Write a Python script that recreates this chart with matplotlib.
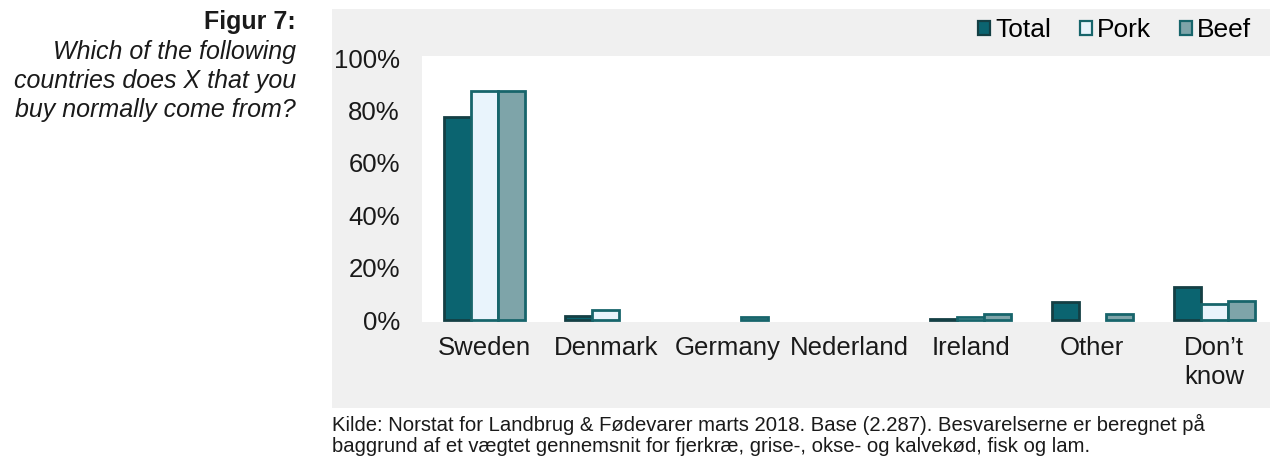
import matplotlib
matplotlib.use("Agg")
import matplotlib.pyplot as plt
from matplotlib.patches import Patch
import numpy as np

plt.rcParams['font.family'] = ['Liberation Sans', 'DejaVu Sans']

categories = ["Sweden", "Denmark", "Germany", "Nederland", "Ireland", "Other", "Don\u2019t\nknow"]
series_names = ["Total", "Pork", "Beef"]
total = [77.5, 1.5, 0.0, 0.0, 0.5, 6.8, 12.5]
pork = [87.3, 3.8, 0.0, 0.0, 1.2, 0.0, 6.0]
beef = [87.3, 0.0, 1.2, 0.0, 2.2, 2.2, 7.3]
y_ticks = [0, 20, 40, 60, 80, 100]

title_bold = "Figur 7:"
question_lines = ["Which of the following", "countries does X that you", "buy normally come from?"]
source_lines = ["Kilde: Norstat for Landbrug & F\u00f8devarer marts 2018. Base (2.287). Besvarelserne er beregnet p\u00e5",
                "baggrund af et v\u00e6gtet gennemsnit for fjerkr\u00e6, grise-, okse- og kalvek\u00f8d, fisk og lam."]

W, H = 1270, 457
fig = plt.figure(figsize=(W / 100, H / 100), dpi=100)
fig.patch.set_facecolor("white")

# grey panel behind the chart
bg = fig.add_axes([332 / W, 1 - 408 / H, (W - 332) / W, (408 - 9) / H], zorder=0)
bg.set_facecolor("#f0f0f0")
bg.set_xticks([])
bg.set_yticks([])
for s in bg.spines.values():
    s.set_visible(False)

ax = fig.add_axes([422 / W, 1 - 322 / H, (W - 422) / W, (322 - 56) / H], zorder=1)
ax.set_facecolor("white")

x = np.arange(len(categories))
bw = 0.222
styles = [
    dict(facecolor="#0b6470", edgecolor="#143f44"),
    dict(facecolor="#e9f4fc", edgecolor="#17656b"),
    dict(facecolor="#7ea4a9", edgecolor="#17656b"),
]
for k, vals in enumerate([total, pork, beef]):
    vals = np.array(vals)
    lw = np.where(vals > 0, 2.0, 0.0)
    ax.bar(x + (k - 1) * bw, vals, width=bw, linewidth=lw, zorder=3, **styles[k])

ax.set_xlim(-0.51, 6.46)
ax.set_ylim(-0.7, 100.8)
ax.set_yticks(y_ticks)
ax.set_yticklabels([f"{t}%" for t in y_ticks])
ax.set_xticks(x)
ax.set_xticklabels(categories, linespacing=1.25)
ax.tick_params(axis="both", length=0, labelsize=18.5, colors="#1a1a1a")
ax.tick_params(axis="y", pad=16)
ax.tick_params(axis="x", pad=10)
for s in ax.spines.values():
    s.set_visible(False)

handles = [Patch(linewidth=1.6, **st) for st in styles]
fig.legend(handles, series_names, loc="center right", bbox_to_anchor=(1262 / W, 1 - 30 / H),
           ncol=3, frameon=False, fontsize=19, handlelength=0.45, handleheight=0.45,
           handletextpad=0.2, columnspacing=1.1, borderaxespad=0)

fig.text(296 / W, 1 - 22 / H, title_bold, ha="right", va="center", fontsize=18,
         fontweight="bold", color="#1a1a1a")
for i, line in enumerate(question_lines):
    fig.text(296 / W, 1 - (52 + 29 * i) / H, line, ha="right", va="center", fontsize=18,
             style="italic", color="#1a1a1a")

for i, line in enumerate(source_lines):
    fig.text(332 / W, 1 - (424 + 23 * i) / H, line, ha="left", va="center", fontsize=14.6,
             color="#1a1a1a")

fig.savefig("out.png", dpi=100)
